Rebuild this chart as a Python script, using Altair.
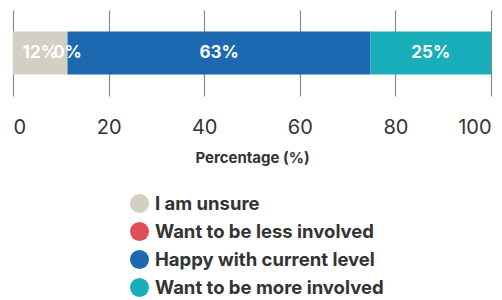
import altair as alt
import pandas as pd

categories = ["I am unsure", "Want to be less involved", "Happy with current level", "Want to be more involved"]
values = [11.4, 0.0, 63.4, 25.2]
labels = ["12%", "0%", "63%", "25%"]
colors = ["#d1d0c3", "#e04e58", "#1c69b1", "#1aaebb"]

df = pd.DataFrame({
    "category": categories,
    "value": values,
    "label": labels,
    "order": list(range(len(categories))),
    "row": ["r"] * len(categories),
})

FONT = "Inter"

color = alt.Color("category:N", sort=categories,
                  scale=alt.Scale(domain=categories, range=colors),
                  legend=alt.Legend(title=None, orient="none", direction="vertical",
                                    legendX=117, legendY=184,
                                    symbolType="circle", symbolSize=360, symbolStrokeWidth=0,
                                    labelFont=FONT, labelFontSize=18.5, labelFontWeight="bold",
                                    labelColor="#333333", rowPadding=9, labelOffset=6,
                                    labelLimit=400))

bars = alt.Chart(df).mark_bar(stroke=None).encode(
    x=alt.X("value:Q", stack="zero",
            scale=alt.Scale(domain=[0, 100], nice=False),
            axis=alt.Axis(title="Percentage (%)", values=[0, 20, 40, 60, 80, 100],
                          grid=True, gridColor="#8a8a8a", gridWidth=1.2,
                          domain=False, ticks=False, labelFlush=True,
                          labelFont=FONT, labelFontSize=20, labelColor="#333333",
                          labelPadding=21, titleFont=FONT, titleFontSize=15,
                          titleFontWeight="bold", titleColor="#333333", titlePadding=13)),
    y=alt.Y("row:N", axis=None, scale=alt.Scale(paddingInner=0, paddingOuter=0.5)),
    color=color,
    order=alt.Order("order:Q"),
)

text = alt.Chart(df).transform_window(
    cum="sum(value)", sort=[alt.SortField("order")]
).transform_calculate(
    mid="datum.cum - datum.value / 2"
).mark_text(color="white", font=FONT, fontSize=17, fontWeight="bold").encode(
    x=alt.X("mid:Q"),
    y=alt.Y("row:N"),
    text="label:N",
)

chart = (bars + text).properties(
    width=478, height=86,
    padding={"left": 5, "top": 2, "right": 3, "bottom": 0},
).configure_view(stroke=None)

chart.save("out.html", embed_options={"renderer": "svg", "actions": False})
